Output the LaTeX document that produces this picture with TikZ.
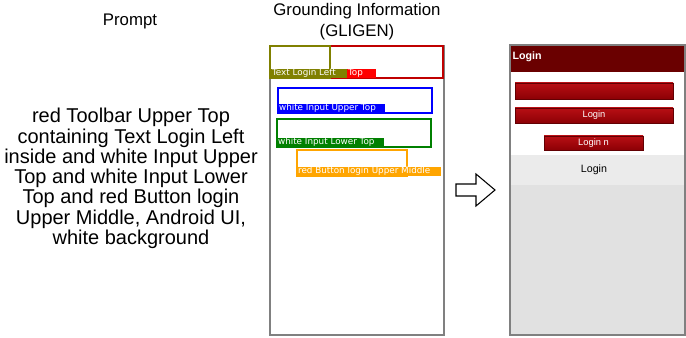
\documentclass[tikz,border=0pt]{standalone}
\usepackage{fontspec}
\setmainfont{Liberation Sans}
\newfontfamily\lblfont{DejaVu Sans}
\usetikzlibrary{calc}
\definecolor{frameg}{HTML}{808080}
\definecolor{olivec}{HTML}{808000}
\definecolor{redc}{HTML}{FF0000}
\definecolor{redb}{HTML}{C00000}
\definecolor{bluec}{HTML}{0000FF}
\definecolor{greenc}{HTML}{008000}
\definecolor{orangec}{HTML}{FFA500}
\definecolor{tbred}{HTML}{6A0000}
\definecolor{barhi}{HTML}{B80F14}
\definecolor{barlo}{HTML}{8C0005}
\definecolor{bggray}{HTML}{E1E1E1}
\definecolor{bandgray}{HTML}{EBEBEB}
\begin{document}
\begin{tikzpicture}[x=0.75pt,y=-0.75pt,
  title/.style={font=\fontsize{12.6}{15.6}\selectfont, align=center},
  gbox/.style={draw, line width=1.2pt},
  glabel/.style={font=\lblfont\fontsize{6.6}{7}\selectfont, text=white, anchor=south west, inner sep=0.6pt},
  bar/.style={draw=barlo!70!black, line width=0.3pt, top color=barhi, bottom color=barlo}]
\useasboundingbox (0,0) rectangle (686,338);
\fill[white] (0,0) rectangle (686,338);
% titles
\node[title] (tprompt) at (130,21) {Prompt};
\node[title] (tground) at (357,22) {Grounding Information\\(GLIGEN)};
% prompt text
\node[font=\fontsize{15}{15.2}\selectfont, align=center] (prompt) at (131,178.5) {red Toolbar Upper Top\\containing Text Login Left\\inside and white Input Upper\\Top and white Input Lower\\Top and red Button login\\Upper Middle, Android UI,\\white background};
% grounding frame
\draw[frameg, line width=1.3pt] (270,46) rectangle (444,335);
\node[inner sep=0, minimum width=174*0.75pt, minimum height=289*0.75pt] (gframe) at (357,190.5) {};
% red toolbar box
\draw[gbox, draw=redb] (270,46) rectangle (443,78);
\fill[redc] (347,69) rectangle (376,78);
\node[glabel] (ltop) at (347,78.8) {Top};
% olive text box
\draw[gbox, draw=olivec] (270,46) rectangle (330,78);
\fill[olivec] (271,69) rectangle (347,78);
\node[glabel] (ltext) at (271,78.8) {Text Login Left};
% blue input
\draw[gbox, draw=bluec] (278,88) rectangle (432,113);
\fill[bluec] (278,104) rectangle (385,113);
\node[glabel] (lblue) at (278,113.8) {white Input Upper Top};
% green input
\draw[gbox, draw=greenc] (277,119) rectangle (431,147);
\fill[greenc] (277,138) rectangle (384,147);
\node[glabel] (lgreen) at (277,147.8) {white Input Lower Top};
% orange button
\draw[gbox, draw=orangec] (297,150) rectangle (407,176);
\fill[orangec] (297,167) rectangle (441,176);
\node[glabel] (lorange) at (297,176.8) {red Button login Upper Middle};
% arrow
\draw[line width=0.8pt, fill=white, line join=miter] (456,184) -- (476,184) -- (476,174) -- (495,190) -- (476,206) -- (476,196) -- (456,196) -- cycle;
\coordinate (arrowc) at (475,190);
% generated UI
\fill[bggray] (510,45) rectangle (685,335);
\fill[white] (510,72) rectangle (685,155);
\fill[bandgray] (510,155) rectangle (685,185);
\fill[tbred] (510,45) rectangle (685,72);
\node[font=\bfseries\fontsize{8}{9}\selectfont, text=white, anchor=west, inner sep=1pt] (tblogin) at (511,57) {Login};
\draw[bar] (515,83) rectangle (673,99);
\draw[bar] (515,108) rectangle (673,123);
\node[font=\fontsize{7}{8}\selectfont, text=white] (b2) at (594,115.5) {Login};
\draw[bar] (544,136) rectangle (643,150);
\node[font=\fontsize{7}{8}\selectfont, text=white] (b3) at (593.5,143) {Login n};
\node[font=\fontsize{8}{9}\selectfont, text=black] (lg) at (594,170) {Login};
\draw[frameg, line width=1.3pt] (510,45) rectangle (685,335);
\end{tikzpicture}
\end{document}
